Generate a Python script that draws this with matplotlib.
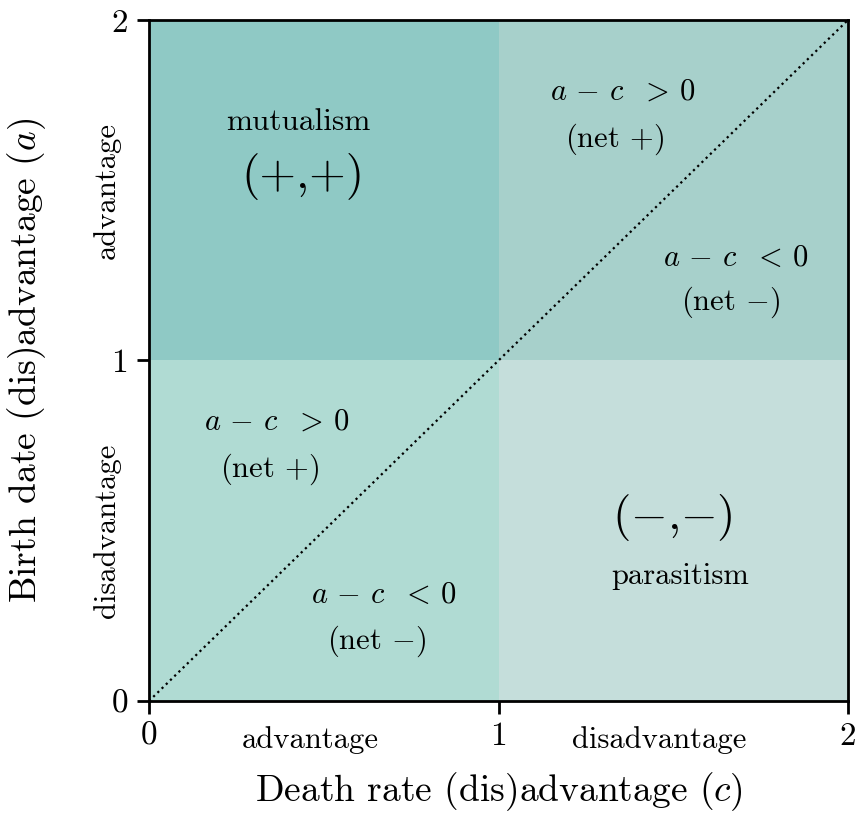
import matplotlib
matplotlib.use('Agg')
import matplotlib.pyplot as plt
from matplotlib.patches import Rectangle
import matplotlib.transforms as mtransforms

plt.rcParams['font.family'] = 'serif'
plt.rcParams['font.serif'] = ['cmr10']
plt.rcParams['mathtext.fontset'] = 'cm'
plt.rcParams['axes.unicode_minus'] = False

# quadrants: (c range start, a range start, colour)
edges = [0, 1, 2]
quad_c = [0, 1, 0, 1]
quad_a = [1, 1, 0, 0]
quad_colors = ['#8fc9c5', '#a7d0cb', '#b0dbd3', '#c5dedb']

ticks = [0, 1, 2]
tick_labels = ['0', '1', '2']

# region annotations (text, c, a, size)
labels = ['mutualism', '(+,+)',
          r'$a\,-\,c\ \ >\,0$', '(net $+$)',
          r'$a\,-\,c\ \ <\,0$', '(net $-$)',
          r'$a\,-\,c\ \ >\,0$', '(net $+$)',
          r'$a\,-\,c\ \ <\,0$', '(net $-$)',
          r'($-$,$-$)', 'parasitism']
label_c = [0.426, 0.44, 1.356, 1.333, 1.68, 1.665, 0.366, 0.346, 0.672, 0.652, 1.496, 1.52]
label_a = [1.70, 1.54, 1.79, 1.65, 1.30, 1.17, 0.82, 0.68, 0.31, 0.175, 0.54, 0.365]
label_size = [22.5, 34, 22, 22, 22, 22, 22, 22, 22, 22, 34, 22]

side_names = ['advantage', 'disadvantage']
side_pos = [0.5, 1.5]

fig = plt.figure(figsize=(8.55, 8.13), dpi=100)
ax = fig.add_axes([0.1743, 0.1378, 0.8175, 0.8376])

for c0, a0, col in zip(quad_c, quad_a, quad_colors):
    ax.add_patch(Rectangle((c0, a0), 1, 1, facecolor=col, edgecolor='none', zorder=0))

ax.plot([edges[0], edges[-1]], [edges[0], edges[-1]], color='black', linestyle=':', linewidth=1.6, zorder=2)

for txt, cx, ay, fs in zip(labels, label_c, label_a, label_size):
    ax.text(cx, ay, txt, fontsize=fs, ha='center', va='center', zorder=3)

ax.set_xlim(edges[0], edges[-1])
ax.set_ylim(edges[0], edges[-1])
ax.set_xticks(ticks)
ax.set_xticklabels(tick_labels)
ax.set_yticks(ticks)
ax.set_yticklabels(tick_labels)
ax.tick_params(direction='out', length=9, width=2, labelsize=24, pad=6)
for sp in ax.spines.values():
    sp.set_linewidth(2)

# side labels under / beside the axes
tx = mtransforms.blended_transform_factory(ax.transData, ax.transAxes)
for name, p in zip(side_names, side_pos):
    ax.text(p - 0.04, -0.057, name, transform=tx, fontsize=22, ha='center', va='center')
ty = mtransforms.blended_transform_factory(ax.transAxes, ax.transData)
for name, p in zip(side_names[::-1], side_pos):
    ax.text(-0.06, p, name, transform=ty, fontsize=22, ha='center', va='center', rotation=90)

ax.set_xlabel(r'Death rate (dis)advantage ($c$)', fontsize=27, labelpad=14)
ax.yaxis.set_label_coords(-0.145, 0.5)
ax.set_ylabel(r'Birth date (dis)advantage ($a$)', fontsize=27)

fig.savefig('out.png', dpi=100)
